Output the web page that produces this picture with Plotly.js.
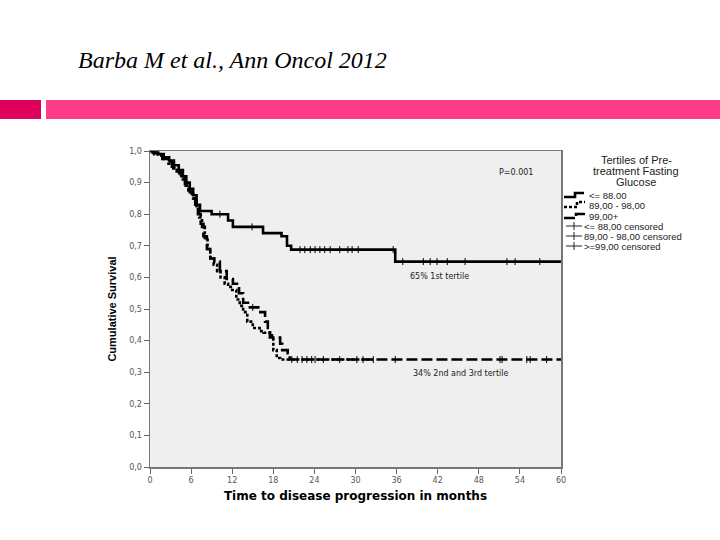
<!DOCTYPE html>
<html>
<head>
<meta charset="utf-8">
<script src="https://cdn.plot.ly/plotly-3.0.1.min.js"></script>
<style>html,body{margin:0;padding:0;background:#fff;}#chart{width:720px;height:540px;}</style>
</head>
<body>
<div id="chart"></div>
<script>
// ---- Data ----
// Tertile 1: <= 88.00 (solid)
const t1 = [0, 0.5, 1.2, 2.0, 2.8, 3.5, 4.2, 4.8, 5.3, 5.8, 6.3, 6.8, 7.3, 9.0, 11.4, 12.1, 16.5, 19.2, 20.0, 20.6, 35.8, 60];
const s1 = [1.0, 0.995, 0.99, 0.98, 0.97, 0.955, 0.94, 0.92, 0.90, 0.88, 0.86, 0.83, 0.81, 0.80, 0.78, 0.76, 0.74, 0.73, 0.70, 0.688, 0.65, 0.65];
// Tertile 2: 89,00 - 98,00 (dotted)
const t2 = [0, 0.6, 1.3, 2.0, 2.7, 3.4, 4.0, 4.6, 5.2, 5.8, 6.3, 6.8, 7.2, 7.6, 8.0, 8.4, 8.8, 9.3, 9.8, 10.3, 10.9, 11.4, 12.0, 12.6, 13.1, 13.6, 14.2, 15.0, 16.0, 16.6, 17.8, 18.0, 18.5, 19.0, 32.6];
const s2 = [1.0, 0.99, 0.985, 0.975, 0.96, 0.945, 0.93, 0.91, 0.89, 0.87, 0.85, 0.82, 0.79, 0.76, 0.72, 0.69, 0.66, 0.64, 0.62, 0.60, 0.58, 0.57, 0.56, 0.53, 0.51, 0.49, 0.46, 0.44, 0.43, 0.425, 0.41, 0.37, 0.345, 0.34, 0.34];
// Tertile 3: 99,00+ (dashed)
const t3 = [0, 0.4, 1.0, 1.8, 2.5, 3.2, 3.9, 4.5, 5.1, 5.6, 6.1, 6.6, 7.0, 7.4, 7.8, 8.3, 8.8, 9.4, 10.2, 11.2, 12.1, 13.0, 13.6, 14.3, 16.1, 16.8, 17.2, 17.5, 19.0, 19.3, 20.1, 20.4, 60];
const s3 = [1.0, 0.995, 0.985, 0.975, 0.965, 0.95, 0.935, 0.915, 0.895, 0.875, 0.85, 0.83, 0.80, 0.77, 0.73, 0.69, 0.66, 0.65, 0.62, 0.595, 0.58, 0.55, 0.52, 0.505, 0.49, 0.46, 0.43, 0.41, 0.39, 0.37, 0.36, 0.34, 0.34];
// Censoring times
const c1 = [10.2, 14.9, 21.9, 22.6, 23.4, 24.1, 24.8, 25.5, 26.3, 27.7, 28.9, 29.5, 30.4, 35.5, 36.9, 39.9, 40.9, 41.9, 43.4, 46.0, 52.1, 53.3, 56.9];
const c2 = [21.5, 22.9, 24.1, 25.3, 27.7, 32.6];
const c3 = [15.0, 20.7, 22.2, 23.6, 30.2, 31.1, 35.8, 51.1, 51.4, 55.0, 55.5, 57.9];

const xTicks = [0, 6, 12, 18, 24, 30, 36, 42, 48, 54, 60];
const yTicks = [0, 0.1, 0.2, 0.3, 0.4, 0.5, 0.6, 0.7, 0.8, 0.9, 1.0];
const legendTitle = ["Tertiles of Pre-", "treatment Fasting", "Glucose"];
const legendLabels = ["<= 88.00", "89,00 - 98,00", "99,00+", "<= 88,00 censored", "89,00 - 98,00 censored", ">=99,00 censored"];

// ---- helpers ----
function survAt(ts, ss, t) { let s = ss[0]; for (let i = 0; i < ts.length; i++) { if (ts[i] <= t) s = ss[i]; } return s; }
const L = 150, R = 159, T = 151, B = 73, PW = 720 - L - R, PH = 540 - T - B;
const px = v => (v - L) / PW;          // pixel x -> paper
const py = v => (540 - B - v) / PH;    // pixel y -> paper

function curve(ts, ss, dash, name) {
  return { x: ts, y: ss, type: 'scatter', mode: 'lines', name: name, showlegend: false,
    line: { shape: 'hv', color: '#000', width: 2.6, dash: dash }, hoverinfo: 'skip' };
}
function cens(ts, ss, cs, name) {
  return { x: cs, y: cs.map(c => survAt(ts, ss, c)), type: 'scatter', mode: 'markers', name: name, showlegend: false,
    marker: { symbol: 'line-ns-open', size: 5, color: '#000', line: { width: 1, color: '#000' } }, hoverinfo: 'skip' };
}

const data = [
  curve(t1, s1, 'solid', legendLabels[0]),
  curve(t2, s2, '3px,2px', legendLabels[1]),
  curve(t3, s3, '11px,4px', legendLabels[2]),
  cens(t1, s1, c1, legendLabels[3]),
  cens(t2, s2, c2, legendLabels[4]),
  cens(t3, s3, c3, legendLabels[5])
];

const shapes = [
  // pink header bar
  { type: 'rect', xref: 'paper', yref: 'paper', x0: px(0), x1: px(41), y0: py(119), y1: py(100), fillcolor: '#DF005E', line: { width: 0 } },
  { type: 'rect', xref: 'paper', yref: 'paper', x0: px(46), x1: px(720), y0: py(119), y1: py(100), fillcolor: '#FF3C8A', line: { width: 0 } },
  // legend samples
  { type: 'path', xref: 'paper', yref: 'paper', path: `M${px(564)},${py(197)} L${px(575)},${py(197)} L${px(575)},${py(193)} L${px(584)},${py(193)}`, line: { color: '#000', width: 2.6 } },
  { type: 'path', xref: 'paper', yref: 'paper', path: `M${px(564)},${py(207)} L${px(577)},${py(207)} L${px(577)},${py(202)} L${px(585)},${py(202)}`, line: { color: '#000', width: 2.6, dash: '3px,2px' } },
  { type: 'path', xref: 'paper', yref: 'paper', path: `M${px(564)},${py(218)} L${px(576)},${py(218)} L${px(576)},${py(214)} L${px(585)},${py(214)}`, line: { color: '#000', width: 2.6, dash: '11px,3px' } }
];
[226, 236, 246].forEach(yy => {
  shapes.push({ type: 'line', xref: 'paper', yref: 'paper', x0: px(566), x1: px(582), y0: py(yy), y1: py(yy), line: { color: '#222', width: 1 } });
  shapes.push({ type: 'line', xref: 'paper', yref: 'paper', x0: px(574), x1: px(574), y0: py(yy - 4), y1: py(yy + 4), line: { color: '#222', width: 1 } });
});

const noteFont = { family: 'DejaVu Sans, sans-serif', size: 8, color: '#222' };
const legFont = { family: 'Liberation Sans, Arial, sans-serif', size: 9.5, color: '#222' };
const annotations = [
  { text: 'Barba M et al., Ann Oncol 2012', xref: 'paper', yref: 'paper', x: px(76), y: py(60), xanchor: 'left', yanchor: 'middle', showarrow: false,
    font: { family: 'Liberation Serif, Times New Roman, serif', size: 24, style: 'italic', color: '#000' } },
  { text: 'P=0.001', xref: 'paper', yref: 'paper', x: px(516), y: py(172), xanchor: 'center', yanchor: 'middle', showarrow: false, font: noteFont },
  { text: '65% 1st tertile', xref: 'paper', yref: 'paper', x: px(439), y: py(276), xanchor: 'center', yanchor: 'middle', showarrow: false, font: noteFont },
  { text: '34% 2nd and 3rd tertile', xref: 'paper', yref: 'paper', x: px(460), y: py(373), xanchor: 'center', yanchor: 'middle', showarrow: false, font: noteFont }
];
const titleY = [160, 171, 182];
legendTitle.forEach((line, i) => {
  annotations.push({ text: line, xref: 'paper', yref: 'paper', x: px(636), y: py(titleY[i]), xanchor: 'center', yanchor: 'middle', showarrow: false,
    font: { family: 'Liberation Sans, Arial, sans-serif', size: 11, color: '#222' } });
});
const legY = [195, 205, 216, 226, 236, 246];
const legX = [587, 587, 587, 582, 582, 582];
legendLabels.forEach((lab, i) => {
  annotations.push({ text: lab, xref: 'paper', yref: 'paper', x: px(legX[i]), y: py(legY[i]), xanchor: 'left', yanchor: 'middle', showarrow: false, font: legFont });
});

const layout = {
  width: 720, height: 540,
  margin: { l: L, r: R, t: T, b: B, pad: 0 },
  paper_bgcolor: '#ffffff', plot_bgcolor: '#EFEFEF',
  separators: ',.',
  showlegend: false,
  xaxis: {
    range: [0, 60], tickvals: xTicks, ticktext: xTicks.map(String), ticks: 'outside', ticklen: 5, tickcolor: '#666',
    showgrid: false, zeroline: false, showline: true, mirror: true, linecolor: '#777', linewidth: 1.5,
    tickfont: { family: 'DejaVu Sans, sans-serif', size: 8, color: '#555' },
    title: { text: 'Time to disease progression in months', standoff: 7, font: { family: 'DejaVu Sans, sans-serif', size: 12, color: '#000', weight: 'bold' } }
  },
  yaxis: {
    range: [0, 1], tickvals: yTicks, tickformat: '.1f', ticks: 'outside', ticklen: 5, tickcolor: '#666',
    showgrid: false, zeroline: false, showline: true, mirror: true, linecolor: '#777', linewidth: 1.5,
    tickfont: { family: 'DejaVu Sans, sans-serif', size: 8, color: '#555' },
    title: { text: 'Cumulative Survival', standoff: 10, font: { family: 'Liberation Sans, Arial, sans-serif', size: 11, color: '#000', weight: 'bold' } }
  },
  shapes: shapes,
  annotations: annotations
};

Plotly.newPlot('chart', data, layout, { staticPlot: true, displayModeBar: false });
</script>
</body>
</html>
